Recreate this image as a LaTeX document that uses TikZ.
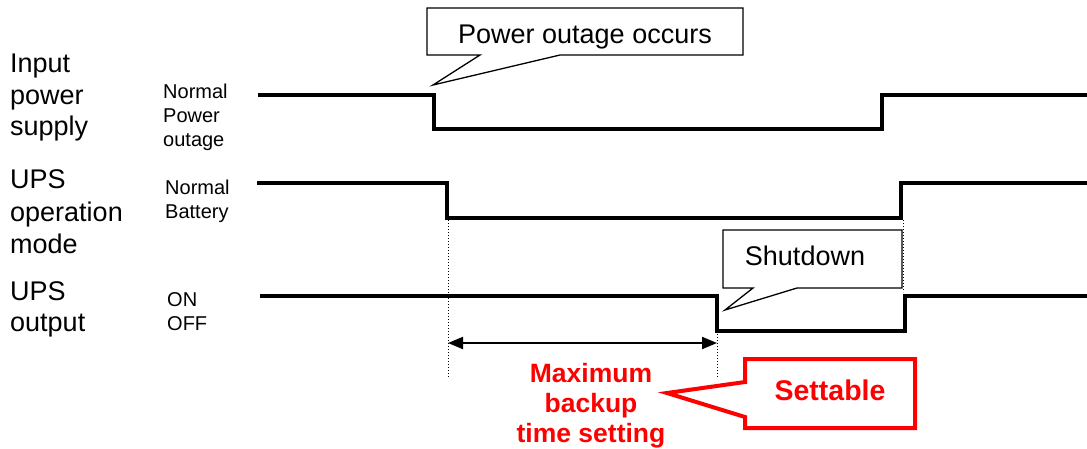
\documentclass[tikz,border=0pt]{standalone}
\usepackage{fontspec}
\setmainfont{Liberation Sans}
\usetikzlibrary{arrows.meta}
\definecolor{alertred}{RGB}{255,0,0}
\begin{document}
\begin{tikzpicture}[x=1pt,y=-1pt,
  signal/.style={line width=3.5pt, line join=miter},
  guide/.style={line width=1pt, dotted},
  callout/.style={draw, line width=1.3pt, fill=white, line join=miter},
  redcallout/.style={draw=alertred, line width=4pt, fill=white, line join=miter},
  big/.style={font=\fontsize{27}{32}\selectfont, inner sep=0pt, anchor=base west},
  bigc/.style={font=\fontsize{27}{32}\selectfont, inner sep=0pt, anchor=base},
  small/.style={font=\fontsize{20}{24}\selectfont, inner sep=0pt, anchor=base west},
  redtxt/.style={font=\fontsize{26.5}{30}\selectfont\bfseries, text=alertred, inner sep=0pt, anchor=base},
  redbig/.style={font=\fontsize{28.5}{32}\selectfont\bfseries, text=alertred, inner sep=0pt, anchor=base},
  span/.style={line width=2pt, {Triangle[length=15pt,width=12pt]}-{Triangle[length=15pt,width=12pt]}}
]
\useasboundingbox (0,0) rectangle (1087,448);

% row titles
\node[big] (in1) at (10,72) {Input};
\node[big] (in2) at (10,104) {power};
\node[big] (in3) at (10,135) {supply};
\node[big] (m1) at (10,188) {UPS};
\node[big] (m2) at (10,221) {operation};
\node[big] (m3) at (10,253) {mode};
\node[big] (o1) at (10,300) {UPS};
\node[big] (o2) at (10,331) {output};

% level labels
\node[small] (s1) at (163,98) {Normal};
\node[small] (s2) at (163,122) {Power};
\node[small] (s3) at (163,146) {outage};
\node[small] (s4) at (165,194) {Normal};
\node[small] (s5) at (165,218) {Battery};
\node[small] (s6) at (167,306) {ON};
\node[small] (s7) at (167,330) {OFF};

% dotted guides
\draw[guide] (448,220) -- (448,378);
\draw[guide] (717,334) -- (717,378);
\draw[guide] (903,220) -- (903,292);

% signals
\draw[signal] (258,95) -- (434,95) -- (434,129) -- (882,129) -- (882,95) -- (1087,95);
\draw[signal] (257,183) -- (447,183) -- (447,218) -- (901,218) -- (901,183) -- (1087,183);
\draw[signal] (260,296) -- (717,296) -- (717,331) -- (905,331) -- (905,296) -- (1087,296);

% backup time span
\coordinate (tA) at (448,343);
\coordinate (tB) at (717,343);
\draw[span] (tA) -- (tB);

% callout: power outage
\draw[callout] (427,8) -- (743,8) -- (743,55) -- (560,55) -- (433,85) -- (480,55) -- (427,55) -- cycle;
\node[bigc] (c1) at (585,43) {Power outage occurs};

% callout: shutdown
\draw[callout] (723,230) -- (902,230) -- (902,288) -- (797,288) -- (725,310) -- (753,288) -- (723,288) -- cycle;
\node[bigc] (c2) at (805,265) {Shutdown};

% red texts
\node[redtxt] (r1) at (591,382) {Maximum};
\node[redtxt] (r2) at (591,412) {backup};
\node[redtxt] (r3) at (591,442) {time setting};

\draw[redcallout] (745,359) -- (915,359) -- (915,428) -- (745,428) -- (745,417) -- (667,393) -- (745,382) -- cycle;
\node[redbig] (c3) at (830,400) {Settable};
\end{tikzpicture}
\end{document}
